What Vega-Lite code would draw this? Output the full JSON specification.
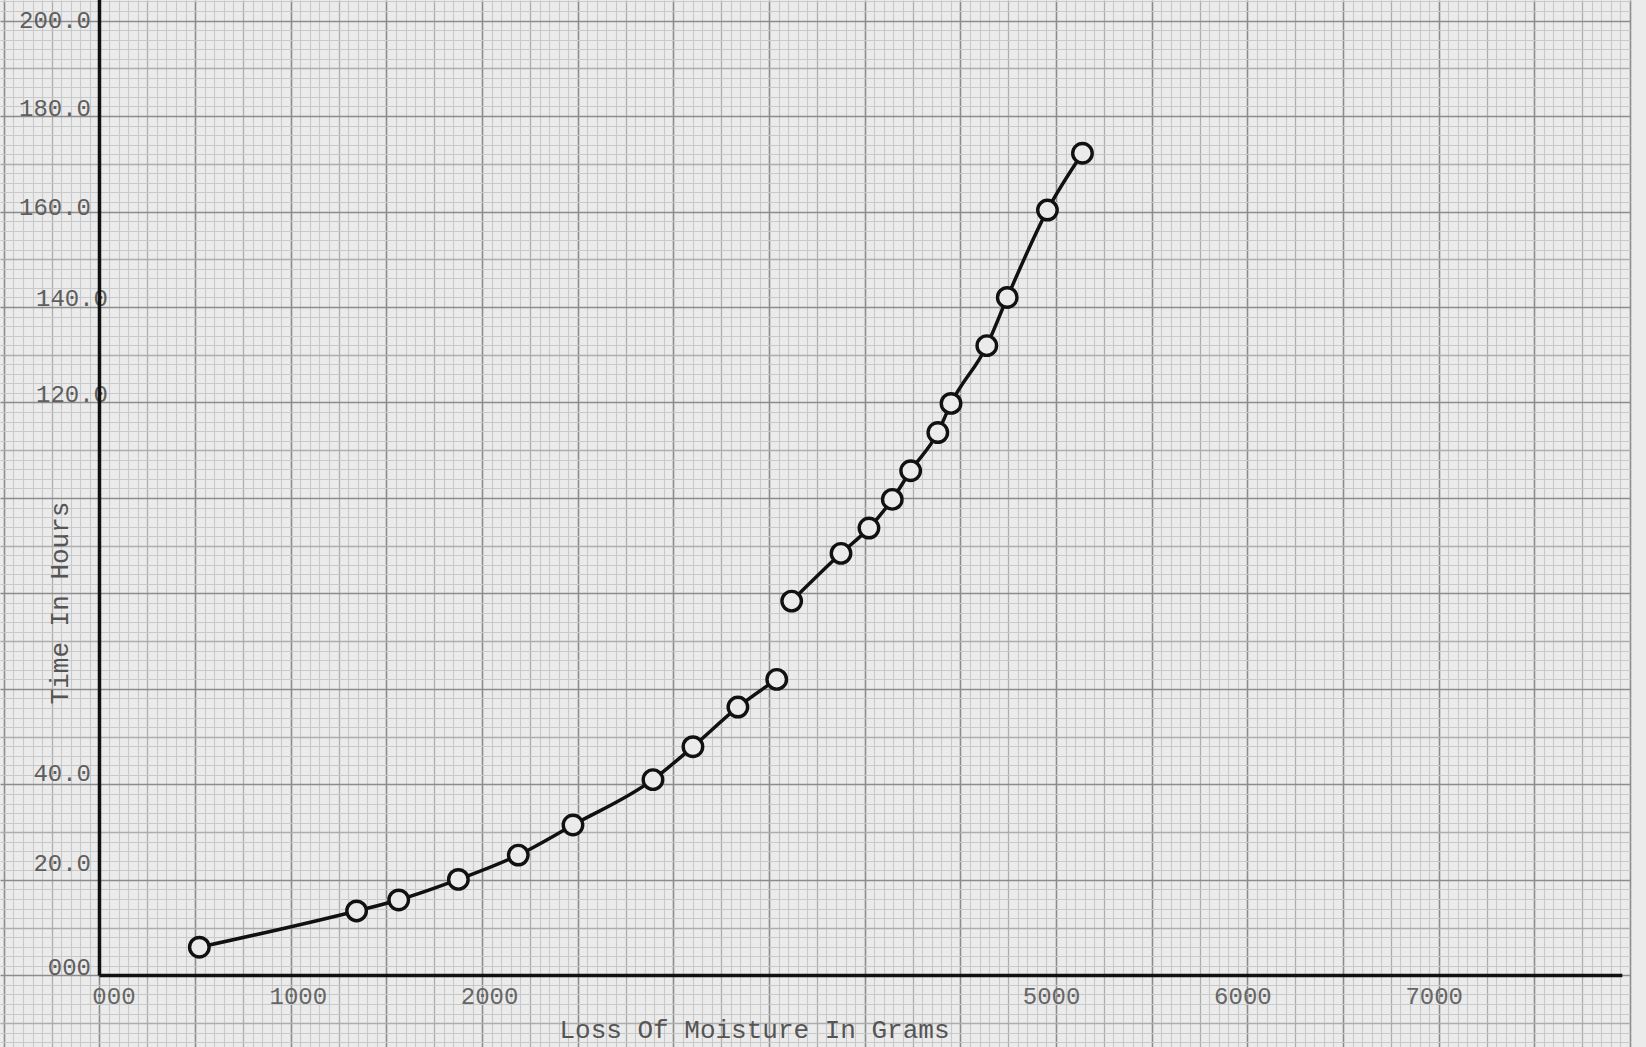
{
  "$schema": "https://vega.github.io/schema/vega-lite/v6.json",
  "width": 1630,
  "height": 1047,
  "autosize": {"type": "none"},
  "padding": {"left": 0, "top": 0, "right": 16, "bottom": 0},
  "background": "#ebebeb",
  "config": {"view": {"stroke": null}},
  "data": {
    "values": [
      {"segment": "A", "loss": 522, "hours": 5.9},
      {"segment": "A", "loss": 1344, "hours": 13.5},
      {"segment": "A", "loss": 1564, "hours": 15.8},
      {"segment": "A", "loss": 1876, "hours": 20.1},
      {"segment": "A", "loss": 2189, "hours": 25.2},
      {"segment": "A", "loss": 2475, "hours": 31.5},
      {"segment": "A", "loss": 2893, "hours": 41.0},
      {"segment": "A", "loss": 3102, "hours": 47.9},
      {"segment": "A", "loss": 3337, "hours": 56.2},
      {"segment": "A", "loss": 3540, "hours": 62.0},
      {"segment": "B", "loss": 3618, "hours": 78.4},
      {"segment": "B", "loss": 3876, "hours": 88.4},
      {"segment": "B", "loss": 4022, "hours": 93.7},
      {"segment": "B", "loss": 4144, "hours": 99.7},
      {"segment": "B", "loss": 4240, "hours": 105.7},
      {"segment": "B", "loss": 4382, "hours": 113.7},
      {"segment": "B", "loss": 4451, "hours": 119.8},
      {"segment": "B", "loss": 4638, "hours": 131.9},
      {"segment": "B", "loss": 4745, "hours": 142.0},
      {"segment": "B", "loss": 4955, "hours": 160.3},
      {"segment": "B", "loss": 5138, "hours": 172.2}
    ]
  },
  "layer": [
    {
      "data": {"values": [{}]},
      "mark": {"type": "rule", "color": "#111111", "strokeWidth": 3.5},
      "encoding": {
        "x": {"datum": 0, "type": "quantitative", "axis": null},
        "y": {"datum": 0, "type": "quantitative", "axis": null},
        "y2": {"datum": 204.3}
      }
    },
    {
      "data": {"values": [{}]},
      "mark": {"type": "rule", "color": "#111111", "strokeWidth": 3.5},
      "encoding": {
        "x": {"datum": 0, "type": "quantitative", "axis": null},
        "x2": {"datum": 7960},
        "y": {"datum": 0, "type": "quantitative", "axis": null}
      }
    },
    {
      "mark": {"type": "line", "color": "#111111", "strokeWidth": 3.5, "interpolate": "monotone"},
      "encoding": {
        "x": {
          "field": "loss", "type": "quantitative",
          "scale": {"domain": [-520, 8000], "nice": false, "zero": false},
          "axis": {
            "orient": "top", "title": null, "labels": false, "ticks": false, "domain": false,
            "grid": true, "tickCount": 170,
            "gridColor": {"condition": [{"test": "datum.value % 500 === 0", "value": "#8c8c8c"}, {"test": "datum.value % 250 === 0", "value": "#adadad"}], "value": "#c9c9c9"},
            "gridWidth": {"condition": [{"test": "datum.value % 500 === 0", "value": 1.6}, {"test": "datum.value % 250 === 0", "value": 1.3}], "value": 1.1}
          }
        },
        "y": {
          "field": "hours", "type": "quantitative",
          "scale": {"domain": [-15, 204.3], "nice": false, "zero": false},
          "axis": {
            "orient": "right", "title": null, "labels": false, "ticks": false, "domain": false,
            "grid": true, "tickCount": 110,
            "gridColor": {"condition": [{"test": "datum.value % 20 === 0", "value": "#8c8c8c"}, {"test": "datum.value % 10 === 0", "value": "#adadad"}], "value": "#c9c9c9"},
            "gridWidth": {"condition": [{"test": "datum.value % 20 === 0", "value": 1.6}, {"test": "datum.value % 10 === 0", "value": 1.3}], "value": 1.1}
          }
        },
        "detail": {"field": "segment"}
      }
    },
    {
      "mark": {"type": "point", "shape": "circle", "filled": false, "fill": "#ebebeb", "fillOpacity": 1, "stroke": "#111111", "strokeWidth": 3.4, "size": 380, "opacity": 1},
      "encoding": {
        "x": {
          "field": "loss", "type": "quantitative",
          "axis": {
            "orient": "bottom", "offset": -71.6,
            "values": [0, 1000, 2000, 5000, 6000, 7000],
            "labelExpr": "datum.value === 0 ? '000' : format(datum.value, 'd')",
            "grid": false, "ticks": false, "tickSize": 0, "domain": false,
            "labelFont": "Liberation Mono", "labelFontSize": 24, "labelColor": "#666666",
            "labelBaseline": "middle", "labelPadding": 21,
            "labelOffset": {"condition": [{"test": "datum.value === 0", "value": 14}, {"test": "datum.value < 3000", "value": 7}], "value": -5},
            "labelFlush": false, "labelOverlap": false, "labelBound": false,
            "title": "Loss Of Moisture In Grams",
            "titleFont": "Liberation Mono", "titleFontSize": 26, "titleFontWeight": "normal", "titleColor": "#555555",
            "titleX": 754, "titleY": 54, "titleAlign": "center", "titleBaseline": "middle"
          }
        },
        "y": {
          "field": "hours", "type": "quantitative",
          "axis": {
            "orient": "left", "offset": -99.5,
            "values": [0, 20, 40, 120, 140, 160, 180, 200],
            "labelExpr": "datum.value === 0 ? '000' : format(datum.value, '.1f')",
            "grid": false, "ticks": false, "tickSize": 0, "domain": false,
            "labelFont": "Liberation Mono", "labelFontSize": 24, "labelColor": "#5e5e5e",
            "labelAlign": "right", "labelBaseline": "middle",
            "labelPadding": {"condition": {"test": "datum.value === 120 || datum.value === 140", "value": -8}, "value": 9},
            "labelOffset": {"condition": [{"test": "datum.value === 200", "value": 0}, {"test": "datum.value === 160", "value": -4}, {"test": "datum.value === 20", "value": -16}, {"test": "datum.value === 40", "value": -11}], "value": -8},
            "labelFlush": false, "labelOverlap": false, "labelBound": false,
            "title": "Time In Hours",
            "titleFont": "Liberation Mono", "titleFontSize": 26, "titleFontWeight": "normal", "titleColor": "#555555",
            "titleX": -40.5, "titleY": 602.5, "titleAngle": 270, "titleAlign": "center", "titleBaseline": "middle"
          }
        }
      }
    }
  ],
  "resolve": {"axis": {"x": "independent", "y": "independent"}}
}
